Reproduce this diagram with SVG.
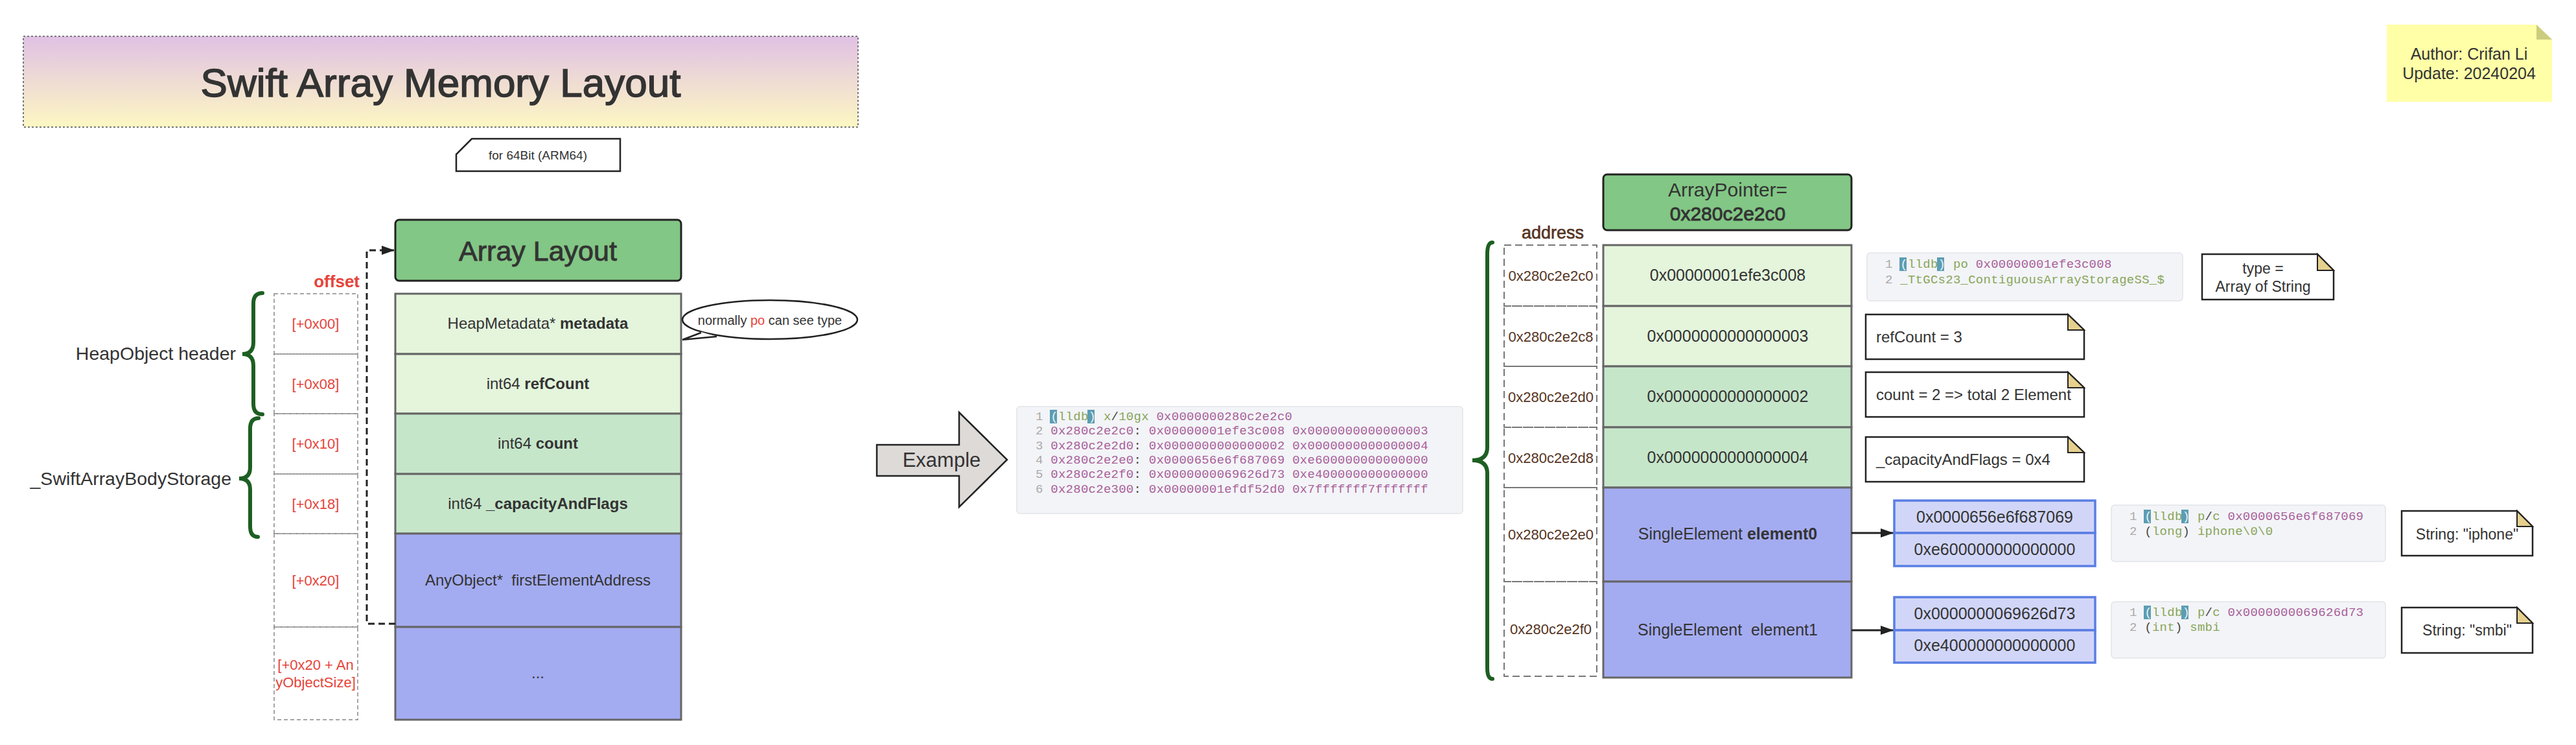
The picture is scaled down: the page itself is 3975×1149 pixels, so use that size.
<svg xmlns="http://www.w3.org/2000/svg" width="3975" height="1149" viewBox="0 0 3975 1149">
<defs>
<linearGradient id="tg" x1="0" y1="0" x2="0" y2="1">
<stop offset="0" stop-color="#E0C1E4"/>
<stop offset="1" stop-color="#FDF7C3"/>
</linearGradient>
<marker id="ah" markerWidth="20" markerHeight="14" refX="19" refY="7" orient="auto" markerUnits="userSpaceOnUse">
<path d="M0,0 L20,7 L0,14 Z" fill="#222"/>
</marker>
<style>
.t{font-family:"Liberation Sans",Arial,sans-serif;fill:#333}
.c{text-anchor:middle}
.b{font-weight:bold}
.med{stroke:#333;stroke-width:0.9}
.ttl{stroke:#333;stroke-width:1.5}
.red{fill:#E5443A}
.brn{fill:#553322}
.m{font-family:"Liberation Mono","DejaVu Sans Mono",monospace;font-size:19px;letter-spacing:0.25px}
.ln{fill:#aaa}.pk{fill:#A8609A}.gr{fill:#87A55A}.dk{fill:#444}.hp{fill:#E8F4F8}
.hl{fill:#5C9DB3}
.code{fill:#F3F4F7;stroke:#E2E4E9;stroke-width:1.5}
.lg{fill:#E4F5DC;stroke:#666;stroke-width:3}
.mg{fill:#C6E6CA;stroke:#666;stroke-width:3}
.bl{fill:#A4ACF1;stroke:#666;stroke-width:3}
.sub{fill:#D1D6F8;stroke:#5A7EE3;stroke-width:3.5}
.hdr{fill:#82C785;stroke:#222;stroke-width:3}
.dsh{fill:none;stroke:#888;stroke-width:1.5;stroke-dasharray:6 4}
.dsh2{fill:none;stroke:#777;stroke-width:2;stroke-dasharray:11 6}
.brace{fill:none;stroke:#1D5F22;stroke-width:6;stroke-linecap:round}
.note{fill:#fff;stroke:#222;stroke-width:2.5}
.fold{fill:#E6D08E;stroke:#222;stroke-width:2}
</style>
</defs>

<!-- Title -->
<g id="title">
<rect x="36" y="56" width="1288" height="140" fill="url(#tg)" stroke="#777" stroke-width="2" stroke-dasharray="3 3"/>
<text class="t c ttl" x="680" y="149" font-size="62">Swift Array Memory Layout</text>
</g>

<g id="arch-note">
<path d="M728,214 L957,214 L957,264 L704,264 L704,238 Z" fill="#fff" stroke="#222" stroke-width="2.5"/>
<text class="t c" x="830" y="246" font-size="19">for 64Bit (ARM64)</text>
</g>

<g id="author-note">
<path d="M3683,38 L3914,38 L3938,61 L3938,157 L3683,157 Z" fill="#FFFFA8"/>
<path d="M3914,38 L3914,61 L3938,61 Z" fill="#CCCC80"/>
<text class="t c" x="3810" y="92" font-size="25">Author: Crifan Li</text>
<text class="t c" x="3810" y="122" font-size="25">Update: 20240204</text>
</g>

<!-- Left: Array Layout -->
<g id="array-layout-header">
<rect class="hdr" x="610" y="339" width="441" height="94" rx="6"/>
<text class="t c med" x="830" y="402" font-size="43">Array Layout</text>
</g>

<g id="offset-column">
<text class="t red b" x="555" y="443" font-size="26" text-anchor="end">offset</text>
<rect class="dsh" x="423" y="453" width="129" height="93"/>
<rect class="dsh" x="423" y="546" width="129" height="92"/>
<rect class="dsh" x="423" y="638" width="129" height="93"/>
<rect class="dsh" x="423" y="731" width="129" height="92"/>
<rect class="dsh" x="423" y="823" width="129" height="144"/>
<rect class="dsh" x="423" y="967" width="129" height="143"/>
<text class="t c red" x="487" y="507" font-size="22">[+0x00]</text>
<text class="t c red" x="487" y="600" font-size="22">[+0x08]</text>
<text class="t c red" x="487" y="692" font-size="22">[+0x10]</text>
<text class="t c red" x="487" y="785" font-size="22">[+0x18]</text>
<text class="t c red" x="487" y="903" font-size="22">[+0x20]</text>
<text class="t c red" x="487" y="1033" font-size="22">[+0x20 + An</text>
<text class="t c red" x="487" y="1060" font-size="22">yObjectSize]</text>
</g>

<g id="row-metadata">
<rect class="lg" x="610" y="453" width="441" height="93"/>
<text class="t c" x="830" y="507" font-size="24">HeapMetadata* <tspan class="b">metadata</tspan></text>
</g>
<g id="row-refcount">
<rect class="lg" x="610" y="546" width="441" height="92"/>
<text class="t c" x="830" y="600" font-size="24">int64 <tspan class="b">refCount</tspan></text>
</g>
<g id="row-count">
<rect class="mg" x="610" y="638" width="441" height="93"/>
<text class="t c" x="830" y="692" font-size="24">int64 <tspan class="b">count</tspan></text>
</g>
<g id="row-capacity">
<rect class="mg" x="610" y="731" width="441" height="92"/>
<text class="t c" x="830" y="785" font-size="24">int64 <tspan class="b">_capacityAndFlags</tspan></text>
</g>
<g id="row-first">
<rect class="bl" x="610" y="823" width="441" height="144"/>
<text class="t c" x="830" y="903" font-size="24" xml:space="preserve">AnyObject*  firstElementAddress</text>
</g>
<g id="row-more">
<rect class="bl" x="610" y="967" width="441" height="143"/>
<text class="t c" x="830" y="1046" font-size="24">...</text>
</g>

<g id="bubble">
<ellipse cx="1188" cy="493" rx="135" ry="30" fill="#fff" stroke="#222" stroke-width="2.5"/>
<path d="M1082,512 L1053,524 L1106,519 Z" fill="#fff"/>
<polyline points="1082,513 1053,524 1106,519" fill="none" stroke="#222" stroke-width="2.5"/>
<text class="t c" x="1188" y="501" font-size="20">normally <tspan class="red">po</tspan> can see type</text>
</g>

<g id="brace-heapobject">
<path class="brace" d="M405,452 Q391,452 391,468 L391,528 Q391,546 374,546 Q391,546 391,564 L391,623 Q391,639 405,639"/>
<text class="t" x="364" y="555" font-size="28.5" text-anchor="end">HeapObject header</text>
</g>
<g id="brace-body">
<path class="brace" d="M399,645 Q386,645 386,661 L386,721 Q386,738 369,738 Q386,738 386,755 L386,812 Q386,828 398,828"/>
<text class="t" x="357" y="748" font-size="28.5" text-anchor="end">_SwiftArrayBodyStorage</text>
</g>

<!-- Example -->
<g id="example-arrow">
<path d="M1353,686 L1480,686 L1480,636 L1554,709 L1480,782 L1480,734 L1353,734 Z" fill="#DEDAD8" stroke="#222" stroke-width="2.5"/>
<text class="t c" x="1453" y="720" font-size="31">Example</text>
</g>

<g id="code-memory">
<rect class="code" x="1569" y="627" width="688" height="165" rx="5"/>
<rect class="hl" x="1620" y="632" width="11" height="21"/>
<rect class="hl" x="1678" y="632" width="11" height="21"/>
<text class="m" x="1598" y="648"><tspan class="ln">1 </tspan><tspan class="hp">(</tspan><tspan class="gr">lldb</tspan><tspan class="hp">)</tspan><tspan class="gr"> x</tspan><tspan class="dk">/</tspan><tspan class="gr">10gx </tspan><tspan class="pk">0x0000000280c2e2c0</tspan></text>
<text class="m" x="1598" y="670"><tspan class="ln">2 </tspan><tspan class="pk">0x280c2e2c0</tspan><tspan class="dk">: </tspan><tspan class="pk">0x00000001efe3c008 0x0000000000000003</tspan></text>
<text class="m" x="1598" y="693"><tspan class="ln">3 </tspan><tspan class="pk">0x280c2e2d0</tspan><tspan class="dk">: </tspan><tspan class="pk">0x0000000000000002 0x0000000000000004</tspan></text>
<text class="m" x="1598" y="715"><tspan class="ln">4 </tspan><tspan class="pk">0x280c2e2e0</tspan><tspan class="dk">: </tspan><tspan class="pk">0x0000656e6f687069 0xe600000000000000</tspan></text>
<text class="m" x="1598" y="737"><tspan class="ln">5 </tspan><tspan class="pk">0x280c2e2f0</tspan><tspan class="dk">: </tspan><tspan class="pk">0x0000000069626d73 0xe400000000000000</tspan></text>
<text class="m" x="1598" y="760"><tspan class="ln">6 </tspan><tspan class="pk">0x280c2e300</tspan><tspan class="dk">: </tspan><tspan class="pk">0x00000001efdf52d0 0x7fffffff7fffffff</tspan></text>
</g>

<!-- Right: Example memory -->
<g id="brace-right">
<path class="brace" d="M2303,374 Q2295,374 2295,392 L2295,690 Q2295,710 2272,710 Q2295,710 2295,730 L2295,1030 Q2295,1047 2303,1047"/>
</g>

<g id="array-pointer">
<rect class="hdr" x="2474" y="269" width="383" height="86" rx="6"/>
<text class="t c" x="2666" y="303" font-size="30">ArrayPointer=</text>
<text class="t c med" x="2666" y="340" font-size="30">0x280c2e2c0</text>
</g>

<g id="address-column">
<text class="t c brn" x="2396" y="368" font-size="27" stroke="#553322" stroke-width="0.6">address</text>
<rect class="dsh2" x="2321" y="378" width="143" height="94"/>
<rect class="dsh2" x="2321" y="472" width="143" height="93"/>
<rect class="dsh2" x="2321" y="565" width="143" height="94"/>
<rect class="dsh2" x="2321" y="659" width="143" height="93"/>
<rect class="dsh2" x="2321" y="752" width="143" height="145"/>
<rect class="dsh2" x="2321" y="897" width="143" height="146"/>
<text class="t c brn" x="2393" y="433" font-size="22">0x280c2e2c0</text>
<text class="t c brn" x="2393" y="527" font-size="22">0x280c2e2c8</text>
<text class="t c brn" x="2393" y="620" font-size="22">0x280c2e2d0</text>
<text class="t c brn" x="2393" y="714" font-size="22">0x280c2e2d8</text>
<text class="t c brn" x="2393" y="832" font-size="22">0x280c2e2e0</text>
<text class="t c brn" x="2393" y="978" font-size="22">0x280c2e2f0</text>
</g>

<g id="val-metadata">
<rect class="lg" x="2474" y="378" width="383" height="94"/>
<text class="t c" x="2666" y="433" font-size="25">0x00000001efe3c008</text>
</g>
<g id="val-refcount">
<rect class="lg" x="2474" y="472" width="383" height="93"/>
<text class="t c" x="2666" y="527" font-size="25">0x0000000000000003</text>
</g>
<g id="val-count">
<rect class="mg" x="2474" y="565" width="383" height="94"/>
<text class="t c" x="2666" y="620" font-size="25">0x0000000000000002</text>
</g>
<g id="val-capacity">
<rect class="mg" x="2474" y="659" width="383" height="93"/>
<text class="t c" x="2666" y="714" font-size="25">0x0000000000000004</text>
</g>
<g id="val-element0">
<rect class="bl" x="2474" y="752" width="383" height="145"/>
<text class="t c" x="2666" y="832" font-size="25">SingleElement <tspan class="b">element0</tspan></text>
</g>
<g id="val-element1">
<rect class="bl" x="2474" y="897" width="383" height="148"/>
<text class="t c" x="2666" y="980" font-size="25" xml:space="preserve">SingleElement  element1</text>
</g>

<g id="code-po">
<rect class="code" x="2881" y="390" width="487" height="74" rx="5"/>
<rect class="hl" x="2931" y="397" width="11" height="21"/>
<rect class="hl" x="2989" y="397" width="11" height="21"/>
<text class="m" x="2909" y="413"><tspan class="ln">1 </tspan><tspan class="hp">(</tspan><tspan class="gr">lldb</tspan><tspan class="hp">)</tspan><tspan class="gr"> po </tspan><tspan class="pk">0x00000001efe3c008</tspan></text>
<text class="m" x="2909" y="437"><tspan class="ln">2 </tspan><tspan class="gr">_TtGCs23_ContiguousArrayStorageSS_$</tspan></text>
</g>

<g id="note-type">
<path class="note" d="M3398,392 L3576,392 L3601,417 L3601,462 L3398,462 Z"/>
<path class="fold" d="M3576,392 L3576,417 L3601,417 Z"/>
<text class="t c" x="3492" y="422" font-size="23">type =</text>
<text class="t c" x="3492" y="450" font-size="23">Array of String</text>
</g>

<g id="note-refcount">
<path class="note" d="M2879,485 L3191,485 L3216,509 L3216,554 L2879,554 Z"/>
<path class="fold" d="M3191,485 L3191,509 L3216,509 Z"/>
<text class="t" x="2895" y="528" font-size="24">refCount = 3</text>
</g>
<g id="note-count">
<path class="note" d="M2879,574 L3191,574 L3216,598 L3216,643 L2879,643 Z"/>
<path class="fold" d="M3191,574 L3191,598 L3216,598 Z"/>
<text class="t" x="2895" y="617" font-size="24">count = 2 =&gt; total 2 Element</text>
</g>
<g id="note-capacity">
<path class="note" d="M2879,674 L3191,674 L3216,698 L3216,743 L2879,743 Z"/>
<path class="fold" d="M3191,674 L3191,698 L3216,698 Z"/>
<text class="t" x="2895" y="717" font-size="24">_capacityAndFlags = 0x4</text>
</g>

<g id="element0-words">
<rect class="sub" x="2923" y="772" width="310" height="50"/>
<rect class="sub" x="2923" y="822" width="310" height="51"/>
<text class="t c" x="3078" y="806" font-size="25">0x0000656e6f687069</text>
<text class="t c" x="3078" y="856" font-size="25">0xe600000000000000</text>
</g>
<g id="element1-words">
<rect class="sub" x="2923" y="921" width="310" height="51"/>
<rect class="sub" x="2923" y="972" width="310" height="50"/>
<text class="t c" x="3078" y="955" font-size="25">0x0000000069626d73</text>
<text class="t c" x="3078" y="1004" font-size="25">0xe400000000000000</text>
</g>

<g id="code-pc0">
<rect class="code" x="3258" y="779" width="423" height="87" rx="5"/>
<rect class="hl" x="3308" y="786" width="11" height="21"/>
<rect class="hl" x="3366" y="786" width="11" height="21"/>
<text class="m" x="3286" y="802"><tspan class="ln">1 </tspan><tspan class="hp">(</tspan><tspan class="gr">lldb</tspan><tspan class="hp">)</tspan><tspan class="gr"> p</tspan><tspan class="dk">/</tspan><tspan class="gr">c </tspan><tspan class="pk">0x0000656e6f687069</tspan></text>
<text class="m" x="3286" y="825"><tspan class="ln">2 </tspan><tspan class="dk">(</tspan><tspan class="gr">long</tspan><tspan class="dk">) </tspan><tspan class="gr">iphone\0\0</tspan></text>
</g>
<g id="code-pc1">
<rect class="code" x="3258" y="928" width="423" height="87" rx="5"/>
<rect class="hl" x="3308" y="934" width="11" height="21"/>
<rect class="hl" x="3366" y="934" width="11" height="21"/>
<text class="m" x="3286" y="950"><tspan class="ln">1 </tspan><tspan class="hp">(</tspan><tspan class="gr">lldb</tspan><tspan class="hp">)</tspan><tspan class="gr"> p</tspan><tspan class="dk">/</tspan><tspan class="gr">c </tspan><tspan class="pk">0x0000000069626d73</tspan></text>
<text class="m" x="3286" y="973"><tspan class="ln">2 </tspan><tspan class="dk">(</tspan><tspan class="gr">int</tspan><tspan class="dk">) </tspan><tspan class="gr">smbi</tspan></text>
</g>

<g id="note-iphone">
<path class="note" d="M3706,788 L3884,788 L3908,812 L3908,857 L3706,857 Z"/>
<path class="fold" d="M3884,788 L3884,812 L3908,812 Z"/>
<text class="t c" x="3807" y="832" font-size="23">String: "iphone"</text>
</g>
<g id="note-smbi">
<path class="note" d="M3706,937 L3884,937 L3908,961 L3908,1007 L3706,1007 Z"/>
<path class="fold" d="M3884,937 L3884,961 L3908,961 Z"/>
<text class="t c" x="3807" y="980" font-size="23">String: "smbi"</text>
</g>

<!-- Connectors -->
<g id="connectors">
<path d="M610,962 L566,962 L566,386 L608,386" fill="none" stroke="#222" stroke-width="3" stroke-dasharray="10 6" marker-end="url(#ah)"/>
<line x1="2857" y1="822" x2="2921" y2="822" stroke="#222" stroke-width="3" marker-end="url(#ah)"/>
<line x1="2857" y1="972" x2="2921" y2="972" stroke="#222" stroke-width="3" marker-end="url(#ah)"/>
</g>
</svg>
